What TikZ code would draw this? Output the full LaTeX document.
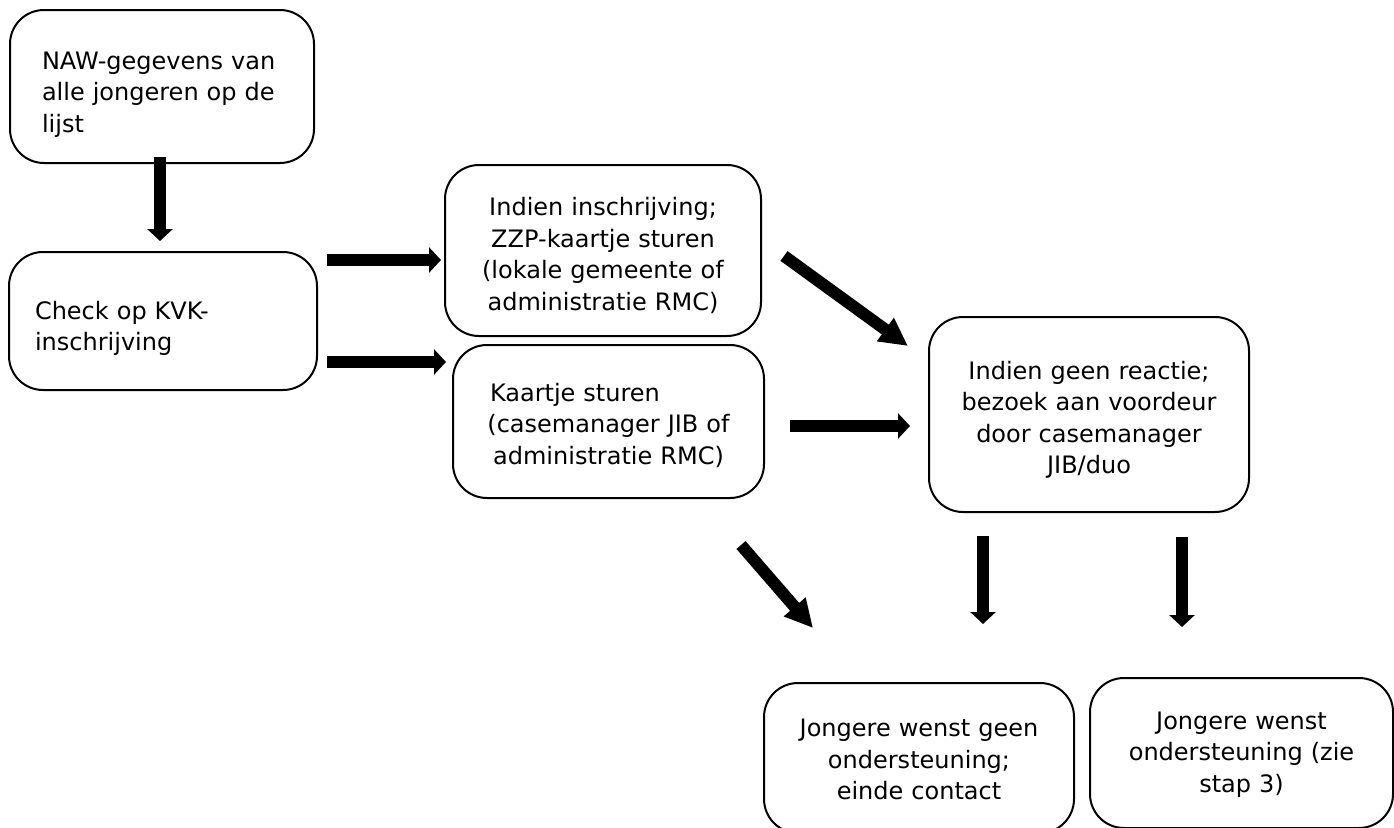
\documentclass[tikz,border=0pt]{standalone}
\usepackage{fontspec}
\setmainfont{DejaVu Sans}
\usetikzlibrary{arrows.meta}
\newcommand\dn[1]{\rule{0pt}{#1}}
\tikzset{
  box/.style={draw=black, line width=2pt, rounded corners=34pt, inner sep=0pt,
    font=\fontsize{24}{31.5}\selectfont},
  fat/.style={line width=12pt, -{Triangle[length=12pt,width=25pt]}},
  fatdiag/.style={line width=12pt, -{Triangle[length=28pt,width=27pt]}}
}
\begin{document}
\begin{tikzpicture}[x=1pt,y=-1pt]
\useasboundingbox (0,0) rectangle (1394,827);
\clip (0,0) rectangle (1394,827);
% boxes
\node[box, minimum width=304pt, minimum height=153pt, text width=240pt, align=left] (naw) at (162,86.5)
  {\dn{33pt}NAW-gegevens van\\alle jongeren op de\\lijst};
\node[box, minimum width=308pt, minimum height=138pt, text width=256pt, align=left] (kvk) at (163,321)
  {\dn{33pt}Check op KVK-\\inschrijving};
\node[box, minimum width=316pt, minimum height=171pt, text width=300pt, align=center] (zzp) at (603,250.5)
  {\dn{28pt}Indien inschrijving;\\ZZP-kaartje sturen\\(lokale gemeente of\\administratie RMC)};
\node[box, minimum width=311pt, minimum height=153pt, text width=300pt, align=center] (kaart) at (608.5,421.5)
  {\dn{26pt}\makebox[237pt][l]{Kaartje sturen}\\(casemanager JIB of\\administratie RMC)};
\node[box, minimum width=320pt, minimum height=195pt, text width=300pt, align=center] (geen) at (1089,414.5)
  {\dn{29pt}Indien geen reactie;\\bezoek aan voordeur\\door casemanager\\JIB/duo};
\node[box, minimum width=310pt, minimum height=150pt, text width=300pt, align=center] (einde) at (919,758)
  {\dn{21pt}Jongere wenst geen\\ondersteuning;\\einde contact};
\node[box, minimum width=303pt, minimum height=150pt, text width=295pt, align=center] (steun) at (1241.5,753)
  {\dn{20pt}Jongere wenst\\ondersteuning (zie\\stap 3)};
% arrow end points
\coordinate (a1s) at (160,157);  \coordinate (a1e) at (160,241);
\coordinate (a2s) at (327,260);  \coordinate (a2e) at (441,260);
\coordinate (a3s) at (327,362);  \coordinate (a3e) at (446,362);
\coordinate (a4s) at (784,256);  \coordinate (a4e) at (908,346);
\coordinate (a5s) at (790,426);  \coordinate (a5e) at (910,426);
\coordinate (a6s) at (741,545);  \coordinate (a6e) at (813,628);
\coordinate (a7s) at (983,536);  \coordinate (a7e) at (983,624);
\coordinate (a8s) at (1182,537); \coordinate (a8e) at (1182,627);
% arrows
\draw[fat] (a1s) -- (a1e);
\draw[fat] (a2s) -- (a2e);
\draw[fat] (a3s) -- (a3e);
\draw[fatdiag] (a4s) -- (a4e);
\draw[fat] (a5s) -- (a5e);
\draw[fatdiag] (a6s) -- (a6e);
\draw[fat] (a7s) -- (a7e);
\draw[fat] (a8s) -- (a8e);
\end{tikzpicture}
\end{document}
